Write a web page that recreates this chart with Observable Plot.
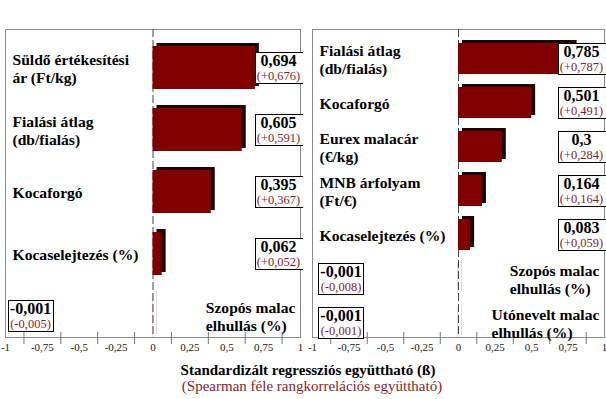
<!DOCTYPE html>
<html>
<head>
<meta charset="utf-8">
<script src="https://cdn.jsdelivr.net/npm/d3@7"></script>
<script src="https://cdn.jsdelivr.net/npm/@observablehq/plot@0.6"></script>
<style>
  html, body { margin: 0; padding: 0; background: #fff; }
  #wrap { position: relative; width: 606px; height: 399px; overflow: hidden; font-family: "Liberation Serif", "Times New Roman", serif; }
  .ttl { position: absolute; top: 4px; font-weight: bold; font-size: 15px; line-height: 18px; text-align: center; color: #000; }
  .panel { position: absolute; top: 0; }
  #xt { position: absolute; left: 0; width: 616px; top: 361px; text-align: center; font-weight: bold; font-size: 15px; line-height: 18px; color: #000; }
  #xs { position: absolute; left: 0; width: 624px; top: 377px; text-align: center; font-size: 15px; line-height: 18px; color: #8b1c2c; }
</style>
</head>
<body>
<div id="wrap">
  <div class="ttl" style="left:0;width:308px">Modellváltozat 1</div>
  <div class="ttl" style="left:303px;width:310px">Modellváltozat 2</div>
  <div class="panel" id="p1" style="left:0"></div>
  <div class="panel" id="p2" style="left:303px"></div>
  <div id="xt">Standardizált regressziós együttható (ß)</div>
  <div id="xs">(Spearman féle rangkorrelációs együttható)</div>
</div>
<script>
// ---- data ----
const m1Labels = ["Süldő értékesítési\nár (Ft/kg)", "Fialási átlag\n(db/fialás)", "Kocaforgó", "Kocaselejtezés (%)", "Szopós malac\nelhullás (%)"];
const m1Beta = [0.694, 0.605, 0.395, 0.062, -0.001];
const m1Spearman = [0.676, 0.591, 0.367, 0.052, -0.005];

const m2Labels = ["Fialási átlag\n(db/fialás)", "Kocaforgó", "Eurex malacár\n(€/kg)", "MNB árfolyam\n(Ft/€)", "Kocaselejtezés (%)", "Szopós malac\nelhullás (%)", "Utónevelt malac\nelhullás (%)"];
const m2Beta = [0.785, 0.501, 0.3, 0.164, 0.083, -0.001, -0.001];
const m2Spearman = [0.787, 0.491, 0.284, 0.164, 0.059, -0.008, -0.001];

const tickValues = [-1, -0.75, -0.5, -0.25, 0, 0.25, 0.5, 0.75, 1];
const tickLabels = ["-1", "-0,75", "-0,5", "-0,25", "0", "0,25", "0,5", "0,75", "1"];

const FONT = '"Liberation Serif", "Times New Roman", serif';

// ---- helpers ----
const fmtBeta = v => String(v).replace(".", ",");
const fmtSp = v => "(" + (v >= 0 ? "+" : "") + String(v).replace(".", ",") + ")";
const midTicks = d3.pairs(tickValues, (a, b) => (a + b) / 2);

function panel(labels, beta, sp, opts) {
  const data = labels.map((label, i) => ({label, beta: beta[i], sp: sp[i]}));
  const pos = data.filter(d => d.beta >= 0);
  const neg = data.filter(d => d.beta < 0);
  const labelStyle = {fontWeight: "bold", fontSize: 15.6, lineHeight: 1.15, fill: "#000"};
  return Plot.plot({
    width: 303, height: 360,
    marginTop: 29, marginBottom: 23, marginLeft: opts.ml, marginRight: opts.mr,
    x: {domain: [-1, 1], axis: null},
    y: {domain: labels, range: opts.yr, padding: 0.3, axis: null},
    style: {fontFamily: FONT, background: "#fff", overflow: "visible"},
    marks: [
      Plot.frame({stroke: "#8c8c8c"}),
      Plot.ruleX([0], {stroke: "#444", strokeDasharray: "8,3"}),
      Plot.barX(data, {x1: 0, x2: "beta", y: "label", fill: "#1e0000", dx: 4, dy: -3}),
      Plot.barX(data, {x1: 0, x2: "beta", y: "label", fill: "#800000"}),
      Plot.axisX({ticks: midTicks, tickSize: 12, dy: -5, tickFormat: () => "", stroke: "#777", label: null}),
      Plot.axisX({ticks: tickValues, tickSize: 0, tickPadding: 6, tickFormat: d => tickLabels[tickValues.indexOf(d)], fontSize: 11, fill: "#222", label: null}),
      Plot.text(pos, {y: "label", text: "label", frameAnchor: "left", textAnchor: "start", dx: 7, ...labelStyle}),
      Plot.text(neg, {y: "label", text: "label", frameAnchor: "right", textAnchor: "end", dx: -5, ...labelStyle, ariaDescription: "neglab"}),
      Plot.text(pos, {y: "label", text: d => fmtBeta(d.beta), frameAnchor: "right", textAnchor: "middle", dx: opts.posDx, dy: -7, fontWeight: "bold", fontSize: 16, fill: "#000", ariaDescription: "vval"}),
      Plot.text(neg, {y: "label", text: d => fmtBeta(d.beta), frameAnchor: "left", textAnchor: "middle", dx: opts.negDx, dy: -7, fontWeight: "bold", fontSize: 16, fill: "#000", ariaDescription: "vval"}),
      Plot.text(pos, {y: "label", text: d => fmtSp(d.sp), frameAnchor: "right", textAnchor: "middle", dx: opts.posDx, dy: 8, fontSize: 12.5, fill: "#8b1c2c", ariaDescription: "vsp"}),
      Plot.text(neg, {y: "label", text: d => fmtSp(d.sp), frameAnchor: "left", textAnchor: "middle", dx: opts.negDx, dy: 8, fontSize: 12.5, fill: "#8b1c2c", ariaDescription: "vsp"})
    ]
  });
}

// value boxes drawn around the rendered value texts
function addBoxes(svg) {
  const vals = svg.querySelectorAll('g[aria-description="vval"] text');
  const sps = svg.querySelectorAll('g[aria-description="vsp"] text');
  const firstGroup = svg.querySelector('g[aria-description="vval"]');
  const s = svg.getBoundingClientRect();
  vals.forEach((t, i) => {
    const a = t.getBoundingClientRect();
    const b = sps[i].getBoundingClientRect();
    const x0 = Math.min(a.left, b.left) - s.left - 2;
    const x1 = Math.max(a.right, b.right) - s.left + 2;
    const y0 = Math.min(a.top, b.top) - s.top;
    const y1 = Math.max(a.bottom, b.bottom) - s.top;
    const r = document.createElementNS("http://www.w3.org/2000/svg", "rect");
    r.setAttribute("x", Math.round(x0) + 0.5);
    r.setAttribute("y", Math.round(y0) + 0.5);
    r.setAttribute("width", Math.round(x1 - x0));
    r.setAttribute("height", Math.round(y1 - y0));
    r.setAttribute("fill", "#fff");
    r.setAttribute("stroke", "#000");
    r.setAttribute("stroke-width", "1");
    svg.insertBefore(r, firstGroup);
  });
}

// right-placed multi-line labels: keep the block at the right, lines left-aligned
function leftAlignBlocks(svg) {
  svg.querySelectorAll('g[aria-description="neglab"] text').forEach(t => {
    const m = /translate\(\s*([-\d.e]+)[ ,]+([-\d.e]+)\s*\)/.exec(t.getAttribute("transform") || "");
    if (!m) return;
    const w = t.getBBox().width;
    t.setAttribute("text-anchor", "start");
    t.setAttribute("transform", `translate(${+m[1] - w},${m[2]})`);
  });
}

const s1 = panel(m1Labels, m1Beta, m1Spearman, {ml: 5, mr: 3, yr: [27.7, 356.3], posDx: -22, negDx: 25});
const s2 = panel(m2Labels, m2Beta, m2Spearman, {ml: 9, mr: 2, yr: [29.4, 350.6], posDx: -23, negDx: 28.5});
document.getElementById("p1").appendChild(s1);
document.getElementById("p2").appendChild(s2);
[s1, s2].forEach(s => { addBoxes(s); leftAlignBlocks(s); });
</script>
</body>
</html>
